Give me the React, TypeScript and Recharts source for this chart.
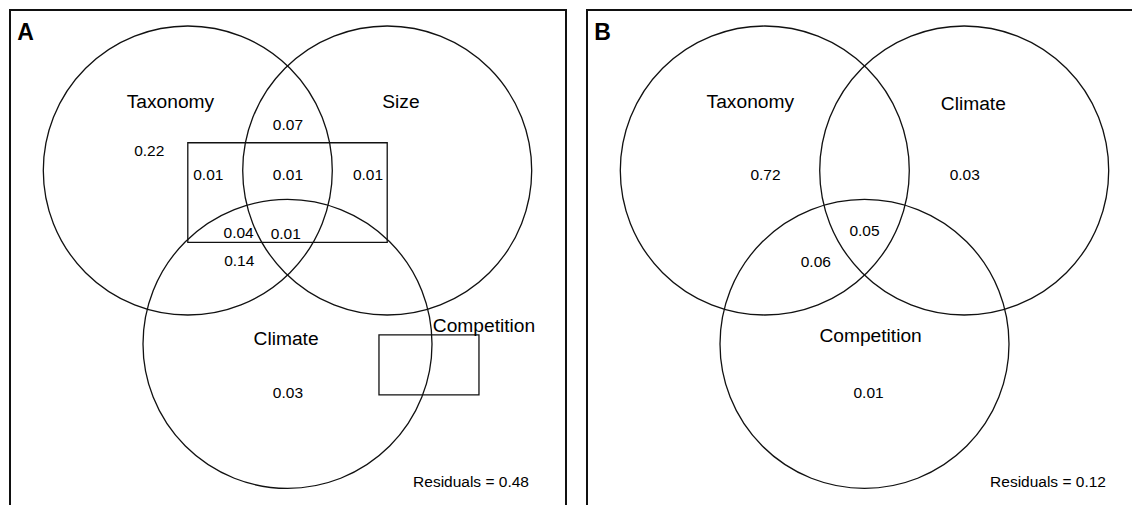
import { ScatterChart, Scatter, XAxis, YAxis, ReferenceArea } from "recharts";

// variance partitioning, units = one circle radius, origin = first circle centre
const circleNamesA = ["Taxonomy", "Size", "Climate"];
const circleX = [0, 1.38, 0.69];
const circleY = [0, 0, -1.2];

const labelsA = ["Taxonomy", "Size", "Climate", "Competition"];
const labelXA = [-0.12, 1.475, 0.68, 2.05];
const labelYA = [0.43, 0.43, -1.208, -1.116];

const fractionsA = [0.22, 0.07, 0.01, 0.01, 0.01, 0.04, 0.01, 0.14, 0.03];
const fracXA = [-0.267, 0.693, 0.142, 0.693, 1.247, 0.352, 0.678, 0.356, 0.693];
const fracYA = [0.1, 0.28, -0.066, -0.066, -0.066, -0.469, -0.476, -0.661, -1.574];

// Competition drawn as boxes in panel A
const boxX1 = [0, 1.323];
const boxX2 = [1.38, 2.015];
const boxY1 = [0.192, -1.138];
const boxY2 = [-0.497, -1.553];

const residualA = 0.48;

const labelsB = ["Taxonomy", "Climate", "Competition"];
const labelXB = [-0.1, 1.443, 0.732];
const labelYB = [0.433, 0.419, -1.189];

const fractionsB = [0.72, 0.03, 0.05, 0.06, 0.01];
const fracXB = [0.005, 1.384, 0.69, 0.353, 0.718];
const fracYB = [-0.066, -0.066, -0.453, -0.666, -1.572];

const residualB = 0.12;

const PX = 144.5; // pixels per radius
const W = 557;
const H = 540;
const X0 = 178.8; // origin offset inside a panel
const Y0 = 161.5;
const xDomain = [-X0 / PX, (W - X0) / PX];
const yDomain = [(Y0 - H) / PX, Y0 / PX];

const FONT = "'Liberation Sans', Arial, Helvetica, sans-serif";

type Pt = { x: number; y: number; text?: string };

const circleShape = (p: any) => (
  <circle cx={p.cx} cy={p.cy} r={PX} fill="none" stroke="#111" strokeWidth={1.3} />
);

const textShape = (size: number, anchor: string, weight = "normal") => (p: any) => (
  <text
    x={p.cx}
    y={p.cy}
    textAnchor={anchor}
    fontSize={size}
    fontWeight={weight}
    fontFamily={FONT}
    fill="#000"
  >
    {p.payload.text}
  </text>
);

function Panel({
  left,
  letter,
  circles,
  labels,
  fractions,
  residual,
  boxes,
}: {
  left: number;
  letter: string;
  circles: Pt[];
  labels: Pt[];
  fractions: Pt[];
  residual: number;
  boxes: { x1: number; x2: number; y1: number; y2: number }[];
}) {
  const letterPt = [{ x: -1.18, y: 0.906, text: letter }];
  const residPt = [{ x: 1.96, y: -2.19, text: `Residuals = ${residual.toFixed(2)}` }];
  return (
    <>
      <div
        style={{
          position: "absolute",
          left,
          top: 8.5,
          width: W + 1,
          height: H,
          border: "2px solid #111",
          boxSizing: "border-box",
        }}
      />
      <div style={{ position: "absolute", left, top: 9 }}>
        <ScatterChart width={W} height={H} margin={{ top: 0, right: 0, bottom: 0, left: 0 }}>
          <XAxis type="number" dataKey="x" domain={xDomain} hide allowDataOverflow />
          <YAxis type="number" dataKey="y" domain={yDomain} hide allowDataOverflow />
          {boxes.map((b, i) => (
            <ReferenceArea
              key={i}
              x1={b.x1}
              x2={b.x2}
              y1={b.y1}
              y2={b.y2}
              fill="none"
              stroke="#111"
              strokeWidth={1.3}
              ifOverflow="visible"
            />
          ))}
          <Scatter data={circles} shape={circleShape} isAnimationActive={false} />
          <Scatter data={labels} shape={textShape(19.2, "middle")} isAnimationActive={false} />
          <Scatter data={fractions} shape={textShape(15.5, "middle")} isAnimationActive={false} />
          <Scatter data={residPt} shape={textShape(15.5, "middle")} isAnimationActive={false} />
          <Scatter data={letterPt} shape={textShape(23, "start", "bold")} isAnimationActive={false} />
        </ScatterChart>
      </div>
    </>
  );
}

export default function App() {
  const circlesA = circleNamesA.map((n, i) => ({ x: circleX[i], y: circleY[i], text: n }));
  const circlesB = labelsB.map((n, i) => ({ x: circleX[i], y: circleY[i], text: n }));
  const labA = labelsA.map((t, i) => ({ x: labelXA[i], y: labelYA[i], text: t }));
  const labB = labelsB.map((t, i) => ({ x: labelXB[i], y: labelYB[i], text: t }));
  const frA = fractionsA.map((v, i) => ({ x: fracXA[i], y: fracYA[i], text: v.toFixed(2) }));
  const frB = fractionsB.map((v, i) => ({ x: fracXB[i], y: fracYB[i], text: v.toFixed(2) }));
  const boxesA = boxX1.map((x1, i) => ({ x1, x2: boxX2[i], y1: boxY1[i], y2: boxY2[i] }));

  return (
    <div
      style={{
        position: "absolute",
        left: 0,
        top: 0,
        width: 1132,
        height: 505,
        overflow: "hidden",
        background: "#fff",
      }}
    >
      <Panel
        left={9}
        letter="A"
        circles={circlesA}
        labels={labA}
        fractions={frA}
        residual={residualA}
        boxes={boxesA}
      />
      <Panel
        left={586}
        letter="B"
        circles={circlesB}
        labels={labB}
        fractions={frB}
        residual={residualB}
        boxes={[]}
      />
    </div>
  );
}
